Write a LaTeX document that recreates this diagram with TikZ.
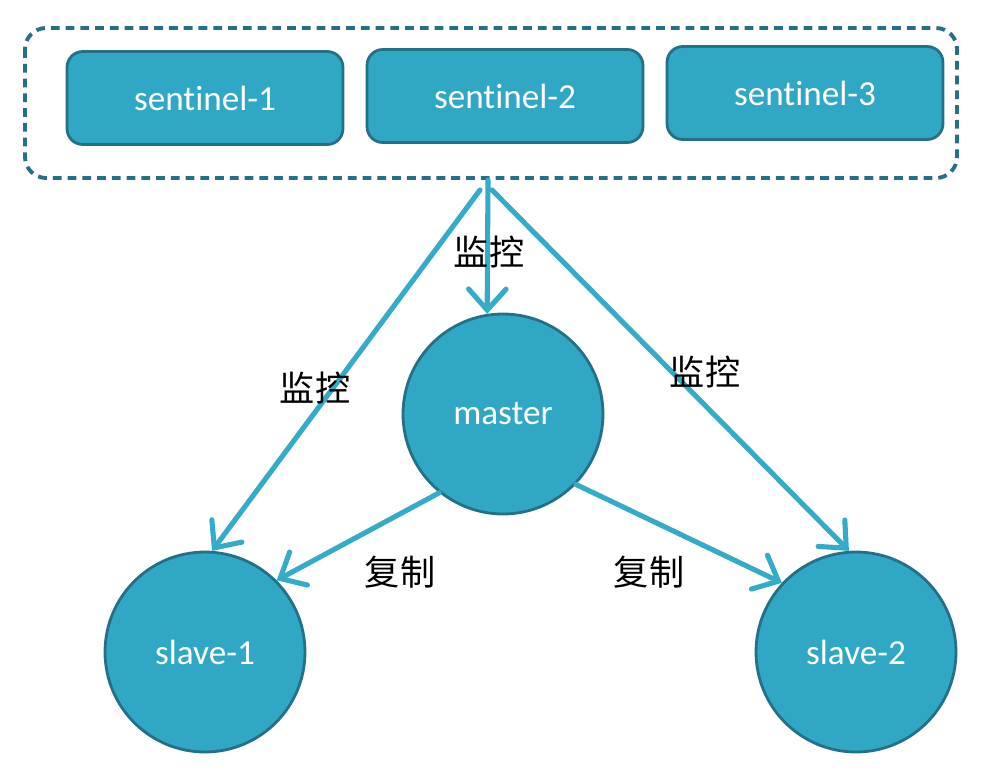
\documentclass[tikz,border=0pt]{standalone}
\usepackage{fontspec}
\setmainfont{Carlito}[Ligatures=NoCommon]
\newfontfamily\cjk{Noto Sans CJK SC}
\usepackage{xcolor}
\definecolor{nodeteal}{RGB}{49, 167, 198}
\definecolor{edgeteal}{RGB}{36, 112, 134}
\definecolor{arrowteal}{RGB}{52, 172, 201}
\usepackage{tikz}
\usetikzlibrary{arrows.meta, positioning, calc}

\begin{document}
\begin{tikzpicture}[x=0.02cm, y=-0.02cm,
      sentbox/.style={rectangle, rounded corners=9pt, draw=edgeteal, line width=1.6pt, fill=nodeteal, text=white, font=\fontsize{20}{24}\selectfont, minimum height=1.86cm, minimum width=5.52cm, align=center},
      roundnode/.style={circle, draw=edgeteal, line width=1.6pt, fill=nodeteal, text=white, font=\fontsize{20}{24}\selectfont, minimum size=4cm, inner sep=0pt},
      arr/.style={-{Straight Barb[length=4.2mm, width=7.5mm, line cap=round]}, line width=2.9pt, arrowteal, line cap=round},
      lbl/.style={font=\cjk\fontsize{20}{24}\selectfont, text=black}
  ]
    \useasboundingbox (0,0) rectangle (999,774);

    % Sentinel group
    \draw[edgeteal, line width=2.2pt, dash pattern=on 5pt off 3.4pt, rounded corners=12pt] (25,28) rectangle (957,178);
    \node[sentbox] (sent1) at (205, 98) {sentinel-1};
    \node[sentbox] (sent2) at (505, 96) {sentinel-2};
    \node[sentbox] (sent3) at (805, 93) {sentinel-3};

    % Redis nodes
    \node[roundnode] (master) at (503, 414) {master};
    \node[roundnode] (slave1) at (205, 652) {slave-1};
    \node[roundnode] (slave2) at (856, 652) {slave-2};

    % Monitor start points
    \coordinate (monc) at (488, 180);
    \coordinate (monl) at (480, 190);
    \coordinate (monr) at (492, 190);

    % Connections
    \draw[arr] (monc) -- (master.99);
    \draw[arr] (monl) -- (slave1.86);
    \draw[arr] (monr) -- (slave2.94);
    \draw[arr] (master.231) -- (slave1.45);
    \draw[arr] (master.316) -- (slave2.137);

    % Labels
    \node[lbl] (labc) at (489, 252) {监控};
    \node[lbl] (labl) at (315, 388) {监控};
    \node[lbl] (labr) at (705, 372) {监控};
    \node[lbl] (labs1) at (400, 572) {复制};
    \node[lbl] (labs2) at (649, 572) {复制};
  \end{tikzpicture}
\end{document}
